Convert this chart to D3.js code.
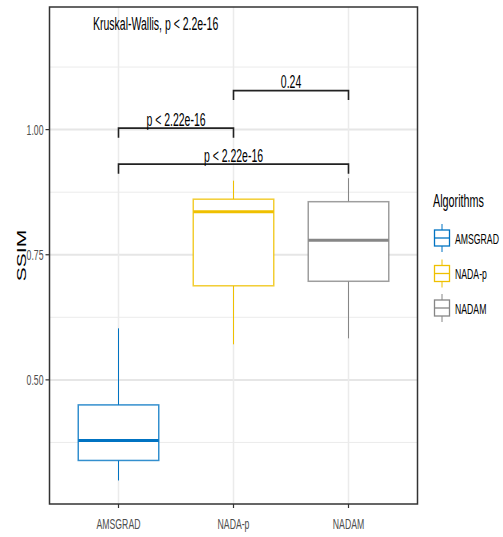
<!DOCTYPE html>
<html>
<head>
<meta charset="utf-8">
<script src="https://cdn.jsdelivr.net/npm/d3@7"></script>
<style>
  body { margin: 0; background: #fff; }
  text { font-family: "Liberation Sans", Arial, sans-serif; }
</style>
</head>
<body>
<svg class="chart" width="503" height="537"></svg>
<script>

//
// data
//

var categories = ["AMSGRAD", "NADA-p", "NADAM"];
var colors = ["#0073C2", "#EFC000", "#868686"];
var whisker_low = [0.299, 0.571, 0.583];
var q1 = [0.339, 0.688, 0.697];
var medians = [0.379, 0.836, 0.779];
var q3 = [0.450, 0.861, 0.856];
var whisker_high = [0.603, 0.898, 0.903];

var y_ticks = [0.50, 0.75, 1.00];
var y_minor = [0.375, 0.625, 0.875, 1.125];

// pairwise comparisons: from, to, label, bracket height (SSIM)
var comp_from = ["AMSGRAD", "NADA-p", "AMSGRAD"];
var comp_to = ["NADA-p", "NADAM", "NADAM"];
var comp_label = ["p < 2.22e-16", "0.24", "p < 2.22e-16"];
var comp_y = [1.003, 1.078, 0.931];

var kruskal_label = "Kruskal-Wallis, p < 2.2e-16";
var legend_title = "Algorithms";

//
// layout
//

var panel = { left: 49.5, right: 417.5, top: 7, bottom: 504 };
var squeeze = 0.6; // text in the picture is narrowed horizontally

var x = d3.scalePoint()
    .domain(categories)
    .range([panel.left, panel.right])
    .padding(0.6);

var y = d3.scaleLinear()
    .domain([0.252, 1.245])
    .range([panel.bottom, panel.top]);

var box_w = x.step() * 0.7;

var svg = d3.select(".chart");

// text helper, squeezed horizontally like the reference
function label(parent, px, py, str, size, anchor, fill, rotate) {
    var g = parent.append("g")
        .attr("transform", "translate(" + px + "," + py + ") scale(" + squeeze + ",1)" +
            (rotate ? " rotate(" + rotate + ")" : ""));
    return g.append("text")
        .attr("text-anchor", anchor || "start")
        .attr("font-size", size)
        .attr("fill", fill || "#000")
        .text(str);
}

//
// grid
//

var grid = svg.append("g");
grid.selectAll("line.minor")
    .data(y_minor)
    .enter().append("line")
    .attr("x1", panel.left).attr("x2", panel.right)
    .attr("y1", function (d) { return y(d); })
    .attr("y2", function (d) { return y(d); })
    .attr("stroke", "#EBEBEB").attr("stroke-width", 1);
grid.selectAll("line.major")
    .data(y_ticks)
    .enter().append("line")
    .attr("x1", panel.left).attr("x2", panel.right)
    .attr("y1", function (d) { return y(d); })
    .attr("y2", function (d) { return y(d); })
    .attr("stroke", "#E6E6E6").attr("stroke-width", 2);
grid.selectAll("line.xmajor")
    .data(categories)
    .enter().append("line")
    .attr("x1", function (d) { return x(d); })
    .attr("x2", function (d) { return x(d); })
    .attr("y1", panel.top).attr("y2", panel.bottom)
    .attr("stroke", "#EBEBEB").attr("stroke-width", 1.5);

//
// boxes
//

var boxes = svg.selectAll("g.box")
    .data(categories)
    .enter().append("g")
    .attr("class", "box");

boxes.append("line")
    .attr("x1", function (d) { return x(d); })
    .attr("x2", function (d) { return x(d); })
    .attr("y1", function (d, i) { return y(whisker_high[i]); })
    .attr("y2", function (d, i) { return y(q3[i]); })
    .attr("stroke", function (d, i) { return colors[i]; })
    .attr("stroke-width", 1);
boxes.append("line")
    .attr("x1", function (d) { return x(d); })
    .attr("x2", function (d) { return x(d); })
    .attr("y1", function (d, i) { return y(q1[i]); })
    .attr("y2", function (d, i) { return y(whisker_low[i]); })
    .attr("stroke", function (d, i) { return colors[i]; })
    .attr("stroke-width", 1);
boxes.append("rect")
    .attr("x", function (d) { return x(d) - box_w / 2; })
    .attr("width", box_w)
    .attr("y", function (d, i) { return y(q3[i]); })
    .attr("height", function (d, i) { return y(q1[i]) - y(q3[i]); })
    .attr("fill", "#fff")
    .attr("stroke", function (d, i) { return colors[i]; })
    .attr("stroke-opacity", 0.8)
    .attr("stroke-width", 1.5);
boxes.append("line")
    .attr("x1", function (d) { return x(d) - box_w / 2; })
    .attr("x2", function (d) { return x(d) + box_w / 2; })
    .attr("y1", function (d, i) { return y(medians[i]); })
    .attr("y2", function (d, i) { return y(medians[i]); })
    .attr("stroke", function (d, i) { return colors[i]; })
    .attr("stroke-width", 3);

//
// comparison brackets
//

var tip = 0.019;
comp_label.forEach(function (txt, i) {
    var x1 = x(comp_from[i]), x2 = x(comp_to[i]), yy = y(comp_y[i]);
    svg.append("path")
        .attr("d", "M" + x1 + "," + y(comp_y[i] - tip) + "V" + yy + "H" + x2 + "V" + y(comp_y[i] - tip))
        .attr("fill", "none")
        .attr("stroke", "#222")
        .attr("stroke-width", 1.6);
    label(svg, (x1 + x2) / 2, yy - 2.5, txt, 17.5, "middle", "#000");
});

label(svg, 93, y(1.199), kruskal_label, 17.5, "start", "#000");

//
// panel border and axes
//

svg.append("rect")
    .attr("x", panel.left).attr("y", panel.top)
    .attr("width", panel.right - panel.left)
    .attr("height", panel.bottom - panel.top)
    .attr("fill", "none")
    .attr("stroke", "#333").attr("stroke-width", 1.5);

var y_axis = svg.append("g");
y_ticks.forEach(function (t) {
    y_axis.append("line")
        .attr("x1", panel.left - 4).attr("x2", panel.left)
        .attr("y1", y(t)).attr("y2", y(t))
        .attr("stroke", "#333").attr("stroke-width", 1.2);
    label(y_axis, panel.left - 6, y(t) + 5, d3.format(".2f")(t), 14.5, "end", "#4D4D4D");
});

var x_axis = svg.append("g");
categories.forEach(function (c) {
    x_axis.append("line")
        .attr("x1", x(c)).attr("x2", x(c))
        .attr("y1", panel.bottom).attr("y2", panel.bottom + 4)
        .attr("stroke", "#333").attr("stroke-width", 1.2);
    label(x_axis, x(c), 529, c, 14.5, "middle", "#4D4D4D");
});

label(svg, 26, (panel.top + panel.bottom) / 2, "SSIM", 21, "middle", "#000", -90);

//
// legend
//

var legend = svg.append("g");
label(legend, 433, 207, legend_title, 18, "start", "#000");
var key_y = [238, 273.5, 308];
categories.forEach(function (c, i) {
    var g = legend.append("g").attr("transform", "translate(442," + key_y[i] + ")");
    g.append("line").attr("y1", -14).attr("y2", 14)
        .attr("stroke", colors[i]).attr("stroke-width", 1);
    g.append("rect").attr("x", -7.5).attr("y", -8).attr("width", 15).attr("height", 16)
        .attr("fill", "#fff").attr("stroke", colors[i]).attr("stroke-width", 1.3);
    g.append("line").attr("x1", -7.5).attr("x2", 7.5)
        .attr("stroke", colors[i]).attr("stroke-width", 1.3);
    label(legend, 455, key_y[i] + 5.5, c, 14.5, "start", "#000");
});

</script>
</body>
</html>
